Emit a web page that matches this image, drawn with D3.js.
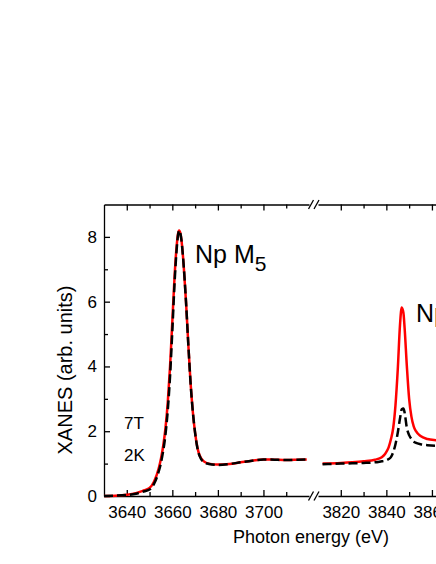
<!DOCTYPE html>
<html>
<head>
<meta charset="utf-8">
<script src="https://cdn.jsdelivr.net/npm/d3@7"></script>
<style>
  body { margin: 0; background: #fff; }
  text { font-family: "Liberation Sans", Arial, sans-serif; fill: #000; }
  .axis path, .axis line { stroke: #000; stroke-width: 1.3; }
</style>
</head>
<body>
<svg id="chart" width="436" height="564"></svg>
<script>
// M5 edge (left part of the broken axis)
var energyM5 = [3630, 3635, 3640, 3644, 3647, 3650, 3652, 3654, 3655, 3656, 3657, 3658, 3659, 3660, 3661,
    3662, 3662.5, 3663, 3663.5, 3664, 3665, 3666, 3667, 3668, 3669, 3670, 3671, 3672, 3674, 3676,
    3680, 3685, 3690, 3695, 3700, 3705, 3710, 3715, 3719];
var redM5 = [0, 0.01, 0.04, 0.09, 0.16, 0.25, 0.45, 0.85, 1.15, 1.55, 2.1, 2.9, 4.0, 5.4, 6.8,
    7.8, 8.1, 8.2, 8.12, 7.9, 7.1, 6.0, 4.7, 3.5, 2.6, 1.95, 1.5, 1.25, 1.06, 1.0,
    0.97, 0.99, 1.04, 1.09, 1.13, 1.12, 1.11, 1.12, 1.13];
var blackM5 = [0, 0.01, 0.03, 0.07, 0.13, 0.2, 0.38, 0.75, 1.02, 1.4, 1.9, 2.65, 3.7, 5.1, 6.6,
    7.7, 8.05, 8.2, 8.12, 7.9, 7.1, 6.0, 4.7, 3.5, 2.6, 1.95, 1.48, 1.23, 1.04, 0.99,
    0.96, 0.99, 1.04, 1.09, 1.13, 1.12, 1.11, 1.12, 1.13];

// M4 edge (right part)
var energyM4 = [3812, 3820, 3825, 3830, 3835, 3838, 3839, 3840, 3841, 3842, 3843, 3844, 3845, 3846, 3846.75,
    3847.5, 3848, 3849, 3850, 3851, 3852, 3853, 3855, 3858, 3862, 3870, 3880];
var redM4 = [1.0, 1.02, 1.04, 1.07, 1.12, 1.2, 1.26, 1.36, 1.5, 1.75, 2.1, 2.8, 3.9, 5.3, 5.82,
    5.65, 5.2, 4.0, 3.0, 2.45, 2.15, 2.0, 1.85, 1.76, 1.72, 1.68, 1.66];
var blackM4 = [0.98, 1.0, 1.01, 1.02, 1.04, 1.07, 1.08, 1.1, 1.14, 1.2, 1.35, 1.6, 1.95, 2.4, 2.68,
    2.7, 2.58, 2.1, 1.88, 1.76, 1.68, 1.64, 1.6, 1.57, 1.55, 1.54, 1.53];

var yMajor = [0, 2, 4, 6, 8];
var yMinor = [1, 3, 5, 7];
var xMajorLeft = [3640, 3660, 3680, 3700];
var xMinorLeft = [3650, 3670, 3690, 3710];
var xMajorRight = [3820, 3840, 3860, 3880];
var xMinorRight = [3830, 3850, 3870];

var svg = d3.select("#chart"),
    top_ = 204.5,
    bottom = 496;

var y = d3.scaleLinear().domain([0, 9]).range([bottom, top_]);
var xLeft = d3.scaleLinear().domain([3630, 3720]).range([104, 309]);
var xRight = d3.scaleLinear().domain([3810, 3880]).range([318, 477.5]);

var fmt = function(d) { return d; };

// draws one x segment (bottom with labels, top without)
var xSegment = function(scale, major, minor) {
    var gb = svg.append("g").attr("class", "axis")
        .attr("transform", "translate(0," + bottom + ")");
    gb.call(d3.axisBottom(scale).tickValues(major).tickFormat(fmt)
        .tickSizeInner(-6).tickSizeOuter(0).tickPadding(10));
    gb.append("g").call(d3.axisBottom(scale).tickValues(minor).tickFormat("")
        .tickSizeInner(-4).tickSizeOuter(0))
        .select(".domain").remove();
    gb.selectAll("text").style("font-size", "17px").style("font-family", null);

    var gt = svg.append("g").attr("class", "axis")
        .attr("transform", "translate(0," + top_ + ")");
    gt.call(d3.axisTop(scale).tickValues(major).tickFormat("")
        .tickSizeInner(-6).tickSizeOuter(0));
    gt.append("g").call(d3.axisTop(scale).tickValues(minor).tickFormat("")
        .tickSizeInner(-4).tickSizeOuter(0))
        .select(".domain").remove();
}

xSegment(xLeft, xMajorLeft, xMinorLeft);
xSegment(xRight, xMajorRight, xMinorRight);

// break marks
[bottom, top_].forEach(function(yy) {
    [311, 316.5].forEach(function(c) {
        svg.append("line")
            .attr("x1", c - 2.5).attr("y1", yy + 4.5)
            .attr("x2", c + 2.5).attr("y2", yy - 4.5)
            .attr("stroke", "#000").attr("stroke-width", 1.3);
    });
});

// y axes
var gl = svg.append("g").attr("class", "axis").attr("transform", "translate(104,0)");
gl.call(d3.axisLeft(y).tickValues(yMajor).tickFormat(fmt)
    .tickSizeInner(-6).tickSizeOuter(0).tickPadding(7));
gl.append("g").call(d3.axisLeft(y).tickValues(yMinor).tickFormat("")
    .tickSizeInner(-4).tickSizeOuter(0))
    .select(".domain").remove();
gl.selectAll("text").style("font-size", "17px").style("font-family", null);

var gr = svg.append("g").attr("class", "axis").attr("transform", "translate(477.5,0)");
gr.call(d3.axisRight(y).tickValues(yMajor).tickFormat("").tickSizeInner(-6).tickSizeOuter(0));

// curves
var drawCurve = function(scale, xs, ys, color, dash) {
    var pts = xs.map(function(e, i) { return [e, ys[i]]; });
    var line = d3.line()
        .x(function(d) { return scale(d[0]); })
        .y(function(d) { return y(d[1]); })
        .curve(d3.curveMonotoneX);
    svg.append("path")
        .datum(pts)
        .attr("d", line)
        .attr("fill", "none")
        .attr("stroke", color)
        .attr("stroke-width", 2.5)
        .attr("stroke-dasharray", dash);
}

drawCurve(xLeft, energyM5, redM5, "#ff0000", null);
drawCurve(xLeft, energyM5, blackM5, "#000", "9,4");
drawCurve(xRight, energyM4, redM4, "#ff0000", null);
drawCurve(xRight, energyM4, blackM4, "#000", "9,4");

// labels
var m5 = svg.append("text").attr("x", 195).attr("y", 263).style("font-size", "25px");
m5.append("tspan").text("Np M");
m5.append("tspan").attr("dy", 8).style("font-size", "21px").text("5");

var m4 = svg.append("text").attr("x", 416).attr("y", 322).style("font-size", "25px");
m4.append("tspan").text("Np M");
m4.append("tspan").attr("dy", 8).style("font-size", "21px").text("4");

svg.append("text").attr("x", 124).attr("y", 429).style("font-size", "17px").text("7T");
svg.append("text").attr("x", 124).attr("y", 461).style("font-size", "17px").text("2K");

svg.append("text")
    .attr("x", 311).attr("y", 543)
    .attr("text-anchor", "middle")
    .style("font-size", "18px")
    .text("Photon energy (eV)");

svg.append("text")
    .attr("transform", "translate(72,370) rotate(-90)")
    .attr("text-anchor", "middle")
    .style("font-size", "20px")
    .text("XANES (arb. units)");
</script>
</body>
</html>
